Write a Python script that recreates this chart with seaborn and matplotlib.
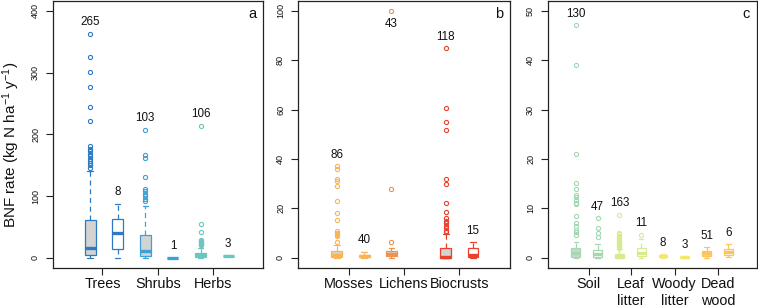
import numpy as np
import pandas as pd
import matplotlib
matplotlib.use("Agg")
import matplotlib.pyplot as plt
import seaborn as sns

# ---------------- data ----------------
# Panel a : plants
cats_a = ["Trees", "Shrubs", "Herbs"]
cols_a = ["#2c7bc2", "#3aa2d6", "#6cc6c0"]
n_a = [265, 8, 103, 1, 106, 3]
lo_a = [0, 0, 0, 0, 0, 2.2]
q1_a = [4.9, 14.6, 3.7, 0, 1.0, 2.6]
med_a = [16.5, 40.5, 11.0, 0, 4.0, 3.0]
q3_a = [60.5, 63.0, 36.2, 0, 8.5, 3.4]
hi_a = [140.5, 87.5, 83.3, 0, 16.0, 3.8]
out_a = [
    [145.6, 149.9, 153.6, 156.9, 160.6, 164.4, 168.2, 172.5, 176.3, 180.6,
     222, 244, 277, 301, 325, 363],
    [],
    [92.2, 96, 99.7, 103.5, 107.8, 112, 130.5, 161.7, 167, 207.5],
    [],
    [20, 21.5, 23, 24.5, 26, 28, 29.5, 42, 54.5, 214],
    [],
]

# Panel b : cryptogams
cats_b = ["Mosses", "Lichens", "Biocrusts"]
cols_b = ["#fbb35a", "#f0914c", "#e8412c"]
n_b = [86, 40, 43, None, 118, 15]
lo_b = [0, 0, 0, None, 0, 0]
q1_b = [0.4, 0.3, 0.6, None, 0.0, 0.2]
med_b = [1.0, 0.6, 1.5, None, 0.4, 1.0]
q3_b = [2.6, 1.2, 2.6, None, 4.0, 4.0]
hi_b = [5.0, 2.5, 4.0, None, 9.8, 6.3]
out_b = [
    [6.3, 8.7, 9.2, 9.7, 10.2, 10.7, 15.2, 18, 23, 29, 31, 32, 36, 37],
    [],
    [6.3, 27.9, 100],
    None,
    [10.5, 11, 12, 13, 14, 15, 16, 18.5, 22.4, 30, 32, 51.8, 54.9, 60.8, 84.8],
    [],
]

# Panel c : substrates
cats_c = ["Soil", "Leaf\nlitter", "Woody\nlitter", "Dead\nwood"]
cols_c = ["#a4d8b0", "#d6ec8c", "#f4e76a", "#fcc45e"]
n_c = [130, 47, 163, 11, 8, 3, 51, 6]
lo_c = [0, 0, 0, 0, 0, 0, 0, 0.2]
q1_c = [0.2, 0.25, 0.0, 0.3, 0.1, 0.05, 0.3, 0.5]
med_c = [1.0, 0.8, 0.3, 1.0, 0.35, 0.15, 0.9, 1.1]
q3_c = [1.9, 1.5, 0.7, 1.9, 0.65, 0.25, 1.3, 1.7]
hi_c = [3.2, 2.7, 1.7, 3.8, 0.8, 0.3, 2.2, 2.7]
out_c = [
    [4.6, 5.3, 5.6, 6.5, 7.1, 8.5, 10.8, 11.1, 11.8, 12.3, 12.8, 14, 15.1, 21, 39, 47.1],
    [4.2, 5.0, 6.0, 8.0],
    [1.9, 2.1, 2.3, 2.5, 2.8, 3.0, 3.3, 3.6, 3.9, 4.2, 4.5, 4.8, 5.0, 8.7],
    [4.7],
    [], [], [], [],
]

ylab = r"BNF rate (kg N ha$^{\mathregular{-1}}$ y$^{\mathregular{-1}}$)"

# ---------------- style ----------------
sns.set_theme(style="ticks")
plt.rcParams["font.family"] = ["Liberation Sans", "DejaVu Sans"]
plt.rcParams["mathtext.fontset"] = "custom"
plt.rcParams["mathtext.rm"] = "Liberation Sans"
plt.rcParams["mathtext.it"] = "Liberation Sans:italic"
plt.rcParams["axes.linewidth"] = 0.9
plt.rcParams["axes.edgecolor"] = "#222222"

W, H = 758, 308
fig = plt.figure(figsize=(W / 100, H / 100), dpi=100)


def px_axes(x0, x1, y0, y1):
    return fig.add_axes([x0 / W, 1 - y1 / H, (x1 - x0) / W, (y1 - y0) / H])


def samples(lo, q1, med, q3, hi, outs):
    # a sample whose box statistics equal the values
    if q1 == q3:
        return [med]
    m = len(outs)
    B = m + 10
    return [lo] * (1 + m) + [q1] * B + [med] * B + [q3] * B + [hi] + list(outs)


def draw_panel(ax, cats, cols, n, lo, q1, med, q3, hi, outs, ytop, yticks,
               xlim, letter, ticks):
    nb = len(n)
    order = [f"s{i}" for i in range(nb)]
    maxes = []
    for i in range(nb):
        if n[i] is None:
            maxes.append(None)
            continue
        col = cols[i // 2]
        face = "#d3d3d3" if i % 2 == 0 else "white"
        vals = samples(lo[i], q1[i], med[i], q3[i], hi[i], outs[i])
        maxes.append(max(vals))
        df = pd.DataFrame({"slot": [order[i]] * len(vals), "value": vals})
        sns.boxplot(
            data=df, x="slot", y="value", order=order, ax=ax,
            color=face, linecolor=col, saturation=1, width=0.4,
            linewidth=0.9, whis=1.5, fliersize=3.0,
            whiskerprops=dict(linestyle=(0, (4, 3)), color=col, linewidth=0.9),
            capprops=dict(color=col, linewidth=0.9),
            medianprops=dict(color=col, linewidth=2.4),
            flierprops=dict(marker="o", markerfacecolor="none",
                            markeredgecolor=col, markeredgewidth=0.8),
        )
    off = 0.046 * ytop
    for i in range(nb):
        if n[i] is None:
            continue
        y = maxes[i] + off
        if y > ytop:
            y = maxes[i] - off * 1.15
        ax.text(i, y, str(n[i]), ha="center", va="center", fontsize=8.4,
                color="#111111")
    ax.set_ylim(-0.04 * ytop, 1.04 * ytop)
    ax.set_xlim(*xlim)
    ax.set_yticks(yticks)
    ax.set_yticklabels([str(t) for t in yticks], rotation=90, va="center",
                       fontsize=6.5)
    ax.set_xticks(ticks)
    ax.set_xticklabels(cats, fontsize=10.4, linespacing=1.3)
    ax.tick_params(axis="y", length=5, width=0.8, pad=4.5, colors="#222222")
    ax.tick_params(axis="x", length=5, width=0.8, pad=1.5, colors="#222222")
    for lab in ax.get_xticklabels() + ax.get_yticklabels():
        lab.set_color("#111111")
    ax.set_xlabel("")
    ax.set_ylabel("")
    for s in ax.spines.values():
        s.set_visible(True)
    ax.annotate(letter, xy=(1, 1), xycoords="axes fraction", xytext=(-11, -13),
                textcoords="offset pixels", ha="center", va="center",
                fontsize=10.5, color="#111111")


axa = px_axes(53.3, 263.3, 1, 267.7)
axb = px_axes(298.3, 510, 1, 267.7)
axc = px_axes(548.3, 756.7, 1, 267.7)

draw_panel(axa, cats_a, cols_a, n_a, lo_a, q1_a, med_a, q3_a, hi_a, out_a,
           400, [0, 100, 200, 300, 400], (-1.33, 6.27), "a", [0.45, 2.45, 4.45])
draw_panel(axb, cats_b, cols_b, n_b, lo_b, q1_b, med_b, q3_b, hi_b, out_b,
           100, [0, 20, 40, 60, 80, 100], (-1.42, 6.36), "b", [0.45, 2.45, 4.5])
draw_panel(axc, cats_c, cols_c, n_c, lo_c, q1_c, med_c, q3_c, hi_c, out_c,
           50, [0, 10, 20, 30, 40, 50], (-1.26, 8.3), "c", [0.6, 2.52, 4.54, 6.54])

axa.set_ylabel(ylab, fontsize=11.0, color="#111111")
axa.yaxis.set_label_coords(-0.148, 0.46)

fig.savefig("out.png", dpi=100)
